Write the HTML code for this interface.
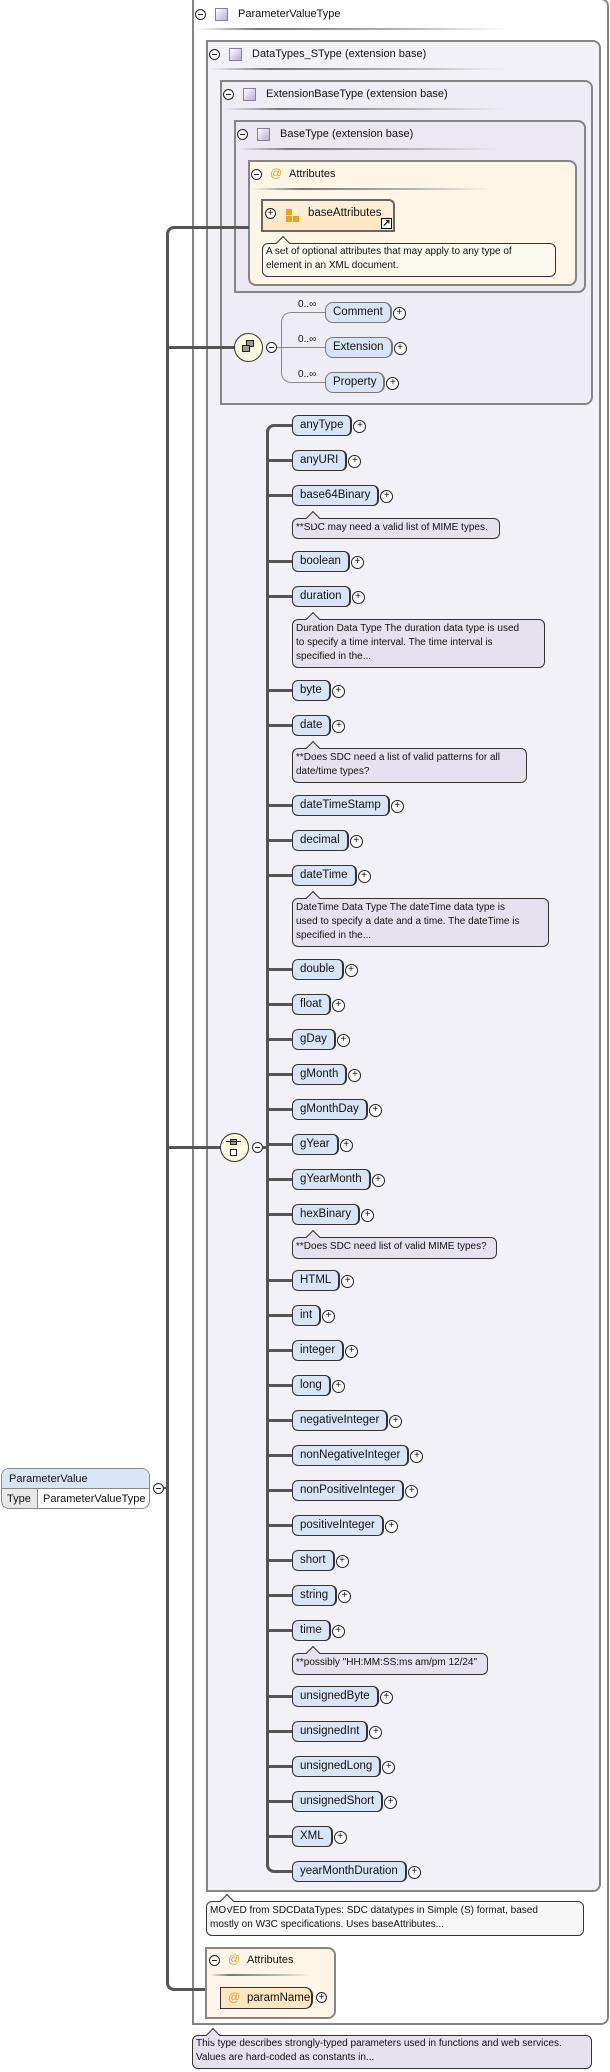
<!DOCTYPE html>
<html><head><meta charset="utf-8"><style>
*{box-sizing:border-box}
body{margin:0;width:610px;height:2072px;position:relative;background:#fff;font-family:"Liberation Sans",sans-serif;color:#111;overflow:hidden}
div,span{position:absolute}
.box{border:2px solid #858585;border-radius:0 8px 8px 0}
.hd{font-size:11px;white-space:nowrap;line-height:14px}
.mi{width:11px;height:11px;border:1px solid #222;border-radius:50%;background:#fff}
.mi::after{content:"";position:absolute;left:2px;top:4px;width:5px;height:1px;background:#222}
.pl{width:11px;height:11px;border:1px solid #222;border-radius:50%;background:#fff;font-size:10px;line-height:9px;text-align:center}
.sq{width:13px;height:13px;border:1px solid #8a7aa8;background:linear-gradient(135deg,#fff,#b9acd8)}
.ul{height:2px;background:linear-gradient(90deg,rgba(150,150,150,0),#777 20%,#bbb 70%,rgba(200,200,200,0))}
.e{left:292px;height:21px;border:1px solid #333;border-right-width:2px;border-radius:6px;background:#d9e5f6;font-size:11.5px;line-height:19px;padding:0 7px 0 7px;white-space:nowrap}
.e::after{content:"+";position:absolute;right:-16px;top:4px;width:11px;height:11px;border:1px solid #222;border-radius:50%;font-size:10px;line-height:9px;text-align:center;background:#fff}
.t{left:267px;width:25px;height:3px;background:#555}
.n{left:292px;border:1px solid #333;border-radius:6px;background:#e5e1ee;font-size:10px;line-height:14px;padding:2px 3px;white-space:nowrap}
.n::before{content:"";position:absolute;left:15px;top:-6px;width:9px;height:9px;background:inherit;border-left:1px solid #333;border-top:1px solid #333;transform:rotate(45deg)}
.at{color:#e8a020;font-size:12px}
</style></head><body>

<div class="box" style="left:192px;top:-2px;width:417px;height:2027px;background:#fff"></div>
<div class="mi" style="left:195px;top:9px"></div><div class="sq" style="left:215px;top:8px"></div>
<div class="hd" style="left:238px;top:7px">ParameterValueType</div>
<div class="ul" style="left:196px;top:28px;width:310px"></div>

<div class="box" style="left:206px;top:40px;width:395px;height:1852px;background:#f3f1f8"></div>
<div class="mi" style="left:209px;top:49px"></div><div class="sq" style="left:229px;top:48px"></div>
<div class="hd" style="left:252px;top:47px">DataTypes_SType (extension base)</div>
<div class="ul" style="left:210px;top:68px;width:295px"></div>

<div class="box" style="left:220px;top:80px;width:373px;height:325px;background:#eeecf5"></div>
<div class="mi" style="left:223px;top:89px"></div><div class="sq" style="left:243px;top:88px"></div>
<div class="hd" style="left:266px;top:87px">ExtensionBaseType (extension base)</div>
<div class="ul" style="left:224px;top:108px;width:280px"></div>

<div class="box" style="left:234px;top:120px;width:352px;height:173px;background:#ebe8f2"></div>
<div class="mi" style="left:237px;top:129px"></div><div class="sq" style="left:257px;top:128px"></div>
<div class="hd" style="left:280px;top:127px">BaseType (extension base)</div>
<div class="ul" style="left:238px;top:148px;width:260px"></div>

<div class="box" style="left:248px;top:160px;width:329px;height:126px;background:#fdf6e6;border-radius:0 8px 8px 8px"></div>
<div class="mi" style="left:251px;top:169px"></div><span class="at" style="left:270px;top:166px">@</span>
<div class="hd" style="left:289px;top:167px">Attributes</div>
<div class="ul" style="left:252px;top:188px;width:240px"></div>

<div style="left:261px;top:199px;width:134px;height:33px;border:2px solid #666;border-radius:0 6px 0 0;background:linear-gradient(#fdf1dc,#fde6c0)"></div>
<div class="pl" style="left:265px;top:208px">+</div>
<div style="left:286px;top:209px;width:6px;height:6px;background:#f0a020"></div>
<div style="left:286px;top:216px;width:6px;height:6px;background:#f0a020"></div>
<div style="left:293px;top:216px;width:6px;height:6px;background:#f0a020"></div>
<div class="hd" style="left:308px;top:206px;font-size:11.5px">baseAttributes</div>
<div style="left:381px;top:218px;width:11px;height:11px;border:1px solid #000;background:#fff;font-size:10px;line-height:9px;text-align:center;font-weight:bold">&#8599;</div>
<div class="n" style="left:262px;top:243px;width:294px;height:34px;background:#fbf8ee;line-height:14px;padding:1px 3px">A set of optional attributes that may apply to any type of<br>element in an XML document.</div>

<div style="left:166px;top:226px;width:83px;height:1765px;border-left:3px solid #555;border-top:3px solid #555;border-bottom:3px solid #555;border-radius:8px 0 0 8px;border-right:none"></div>
<div style="left:167px;top:346px;width:68px;height:3px;background:#555"></div>
<div style="left:167px;top:1146px;width:55px;height:3px;background:#555"></div>
<div style="left:154px;top:1487px;width:14px;height:2px;background:#555"></div>

<div style="left:234px;top:333px;width:29px;height:29px;border:1px solid #333;border-radius:50%;background:#fdfbe0"></div>
<div style="left:246px;top:340px;width:8px;height:7px;border:1px solid #222;background:#999"></div>
<div style="left:242px;top:345px;width:8px;height:7px;border:1px solid #222;background:#999"></div>
<div class="mi" style="left:266px;top:342px"></div>
<div style="left:277px;top:347px;width:5px;height:1px;background:#888"></div>
<div style="left:281px;top:312px;width:44px;height:71px;border:1px solid #888;border-right:none;border-radius:10px 0 0 10px"></div>
<div style="left:281px;top:347px;width:44px;height:1px;background:#888"></div>
<div class="hd" style="left:298px;top:298px;font-size:10px">0..∞</div>
<div class="hd" style="left:298px;top:333px;font-size:10px">0..∞</div>
<div class="hd" style="left:298px;top:368px;font-size:10px">0..∞</div>
<div class="e" style="left:325px;top:302px;border-color:#777;border-radius:8px">Comment</div>
<div class="e" style="left:325px;top:337px;border-color:#777;border-radius:8px">Extension</div>
<div class="e" style="left:325px;top:372px;border-color:#777;border-radius:8px">Property</div>

<div style="left:220px;top:1133px;width:29px;height:29px;border:1px solid #333;border-radius:50%;background:#fdfbe0"></div>
<div style="left:230px;top:1139px;width:7px;height:6px;border:1px solid #222;background:#999"></div>
<div style="left:230px;top:1149px;width:7px;height:7px;border:1px solid #222;background:#fff"></div>
<div style="left:226px;top:1141px;width:15px;height:1px;background:#222"></div>
<div class="mi" style="left:252px;top:1142px"></div>
<div style="left:263px;top:1146px;width:5px;height:3px;background:#555"></div>
<div style="left:266px;top:424px;width:26px;height:1449px;border-left:3px solid #555;border-top:3px solid #555;border-bottom:3px solid #555;border-radius:8px 0 0 8px"></div>

<div class="t" style="top:459px"></div><div class="t" style="top:494px"></div><div class="t" style="top:560px"></div><div class="t" style="top:595px"></div><div class="t" style="top:689px"></div><div class="t" style="top:724px"></div><div class="t" style="top:804px"></div><div class="t" style="top:839px"></div><div class="t" style="top:874px"></div><div class="t" style="top:968px"></div><div class="t" style="top:1003px"></div><div class="t" style="top:1038px"></div><div class="t" style="top:1073px"></div><div class="t" style="top:1108px"></div><div class="t" style="top:1143px"></div><div class="t" style="top:1178px"></div><div class="t" style="top:1213px"></div><div class="t" style="top:1279px"></div><div class="t" style="top:1314px"></div><div class="t" style="top:1349px"></div><div class="t" style="top:1384px"></div><div class="t" style="top:1419px"></div><div class="t" style="top:1454px"></div><div class="t" style="top:1489px"></div><div class="t" style="top:1524px"></div><div class="t" style="top:1559px"></div><div class="t" style="top:1594px"></div><div class="t" style="top:1629px"></div><div class="t" style="top:1695px"></div><div class="t" style="top:1730px"></div><div class="t" style="top:1765px"></div><div class="t" style="top:1800px"></div><div class="t" style="top:1835px"></div>

<div class="e" style="top:415px">anyType</div>
<div class="e" style="top:450px">anyURI</div>
<div class="e" style="top:485px">base64Binary</div>
<div class="n" style="top:518px;width:208px;height:21px">**SDC may need a valid list of MIME types.</div>
<div class="e" style="top:551px">boolean</div>
<div class="e" style="top:586px">duration</div>
<div class="n" style="top:619px;width:253px;height:49px">Duration Data Type The duration data type is used<br>to specify a time interval. The time interval is<br>specified in the...</div>
<div class="e" style="top:680px">byte</div>
<div class="e" style="top:715px">date</div>
<div class="n" style="top:748px;width:235px;height:35px">**Does SDC need a list of valid patterns for all<br>date/time types?</div>
<div class="e" style="top:795px">dateTimeStamp</div>
<div class="e" style="top:830px">decimal</div>
<div class="e" style="top:865px">dateTime</div>
<div class="n" style="top:898px;width:257px;height:49px">DateTime Data Type The dateTime data type is<br>used to specify a date and a time. The dateTime is<br>specified in the...</div>
<div class="e" style="top:959px">double</div>
<div class="e" style="top:994px">float</div>
<div class="e" style="top:1029px">gDay</div>
<div class="e" style="top:1064px">gMonth</div>
<div class="e" style="top:1099px">gMonthDay</div>
<div class="e" style="top:1134px">gYear</div>
<div class="e" style="top:1169px">gYearMonth</div>
<div class="e" style="top:1204px">hexBinary</div>
<div class="n" style="top:1237px;width:205px;height:22px">**Does SDC need list of valid MIME types?</div>
<div class="e" style="top:1270px">HTML</div>
<div class="e" style="top:1305px">int</div>
<div class="e" style="top:1340px">integer</div>
<div class="e" style="top:1375px">long</div>
<div class="e" style="top:1410px">negativeInteger</div>
<div class="e" style="top:1445px">nonNegativeInteger</div>
<div class="e" style="top:1480px">nonPositiveInteger</div>
<div class="e" style="top:1515px">positiveInteger</div>
<div class="e" style="top:1550px">short</div>
<div class="e" style="top:1585px">string</div>
<div class="e" style="top:1620px">time</div>
<div class="n" style="top:1653px;width:196px;height:22px">**possibly "HH:MM:SS:ms am/pm 12/24"</div>
<div class="e" style="top:1686px">unsignedByte</div>
<div class="e" style="top:1721px">unsignedInt</div>
<div class="e" style="top:1756px">unsignedLong</div>
<div class="e" style="top:1791px">unsignedShort</div>
<div class="e" style="top:1826px">XML</div>
<div class="e" style="top:1861px">yearMonthDuration</div>

<div class="n" style="left:206px;top:1901px;width:378px;height:35px;background:#f7f7f8">MOVED from SDCDataTypes: SDC datatypes in Simple (S) format, based<br>mostly on W3C specifications. Uses baseAttributes...</div>

<div class="box" style="left:205px;top:1947px;width:131px;height:72px;background:#fdf6e6;border-radius:0 8px 8px 0"></div>
<div class="mi" style="left:209px;top:1955px"></div><span class="at" style="left:228px;top:1952px">@</span>
<div class="hd" style="left:247px;top:1953px">Attributes</div>
<div class="ul" style="left:210px;top:1974px;width:100px"></div>
<div style="left:220px;top:1987px;width:93px;height:22px;border:1px solid #333;border-right-width:2px;border-radius:0 8px 8px 0;background:#fde6c0"></div>
<span class="at" style="left:228px;top:1990px">@</span>
<div class="hd" style="left:247px;top:1991px;font-size:11.5px">paramName</div>
<div class="pl" style="left:316px;top:1992px">+</div>

<div class="n" style="left:192px;top:2035px;width:400px;height:34px;padding:1px 3px">This type describes strongly-typed parameters used in functions and web services.<br>Values are hard-coded as constants in...</div>

<div style="left:1px;top:1468px;width:149px;height:41px;border:1px solid #888;border-radius:8px 8px 8px 8px;background:#e8e8e8;overflow:hidden">
 <div style="left:0;top:0;width:149px;height:20px;background:#d9e5f6;border-bottom:1px solid #888"></div>
 <div class="hd" style="left:7px;top:3px;font-size:11px">ParameterValue</div>
 <div class="hd" style="left:5px;top:23px;font-size:11px">Type</div>
 <div style="left:35px;top:20px;width:115px;height:20px;background:#fff;border-left:1px solid #888"></div>
 <div class="hd" style="left:41px;top:23px;font-size:11px">ParameterValueType</div>
</div>
<div class="mi" style="left:153px;top:1483px"></div>
</body></html>
